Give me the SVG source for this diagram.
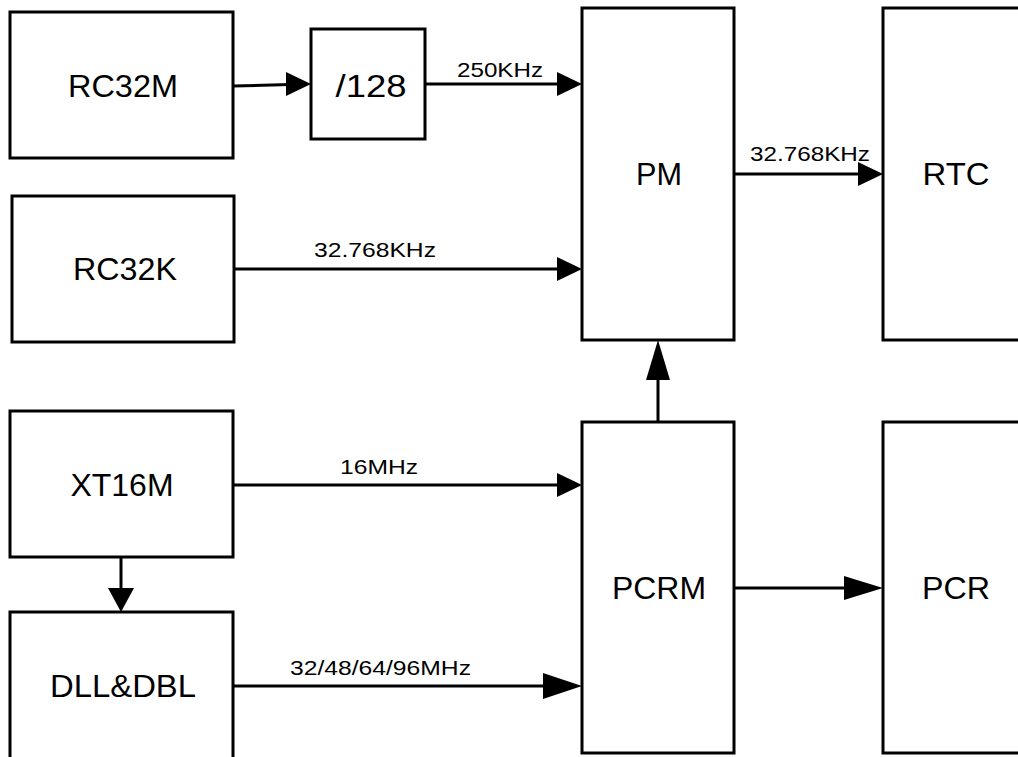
<svg xmlns="http://www.w3.org/2000/svg" width="1018" height="757" viewBox="0 0 1018 757">
<style>
  .box { fill: #fff; stroke: #000; stroke-width: 3; }
  .lbl { font-family: "Liberation Sans", Arial, sans-serif; font-size: 32px; fill: #000; text-anchor: middle; }
  .edge { stroke: #000; stroke-width: 3; fill: none; }
  .elbl { font-family: "Liberation Sans", Arial, sans-serif; font-size: 21px; fill: #000; }
  .head { fill: #000; stroke: none; }
</style>
<rect width="1018" height="757" fill="#fff"/>
<g id="connectors">
  <line class="edge" x1="233" y1="86" x2="290" y2="84.5"/>
  <polygon class="head" points="311,84 286,72 286,96"/>
  <line class="edge" x1="425" y1="84" x2="560" y2="84"/>
  <polygon class="head" points="582,84 557,72 557,96"/>
  <text class="elbl" x="457" y="77" textLength="86" lengthAdjust="spacingAndGlyphs">250KHz</text>
  <line class="edge" x1="234" y1="269" x2="560" y2="269"/>
  <polygon class="head" points="582,269 557,257 557,281"/>
  <text class="elbl" x="314" y="257" textLength="122" lengthAdjust="spacingAndGlyphs">32.768KHz</text>
  <line class="edge" x1="734" y1="174" x2="860" y2="174"/>
  <polygon class="head" points="883,174 858,162 858,186"/>
  <text class="elbl" x="750" y="161" textLength="120" lengthAdjust="spacingAndGlyphs">32.768KHz</text>
  <line class="edge" x1="658" y1="422" x2="658" y2="375"/>
  <polygon class="head" points="658,340 646,380 670,380"/>
  <line class="edge" x1="233" y1="485" x2="560" y2="485"/>
  <polygon class="head" points="582,485 557,473 557,497"/>
  <text class="elbl" x="340" y="474" textLength="78" lengthAdjust="spacingAndGlyphs">16MHz</text>
  <line class="edge" x1="121" y1="557" x2="121" y2="592"/>
  <polygon class="head" points="121,612 108,588 134,588"/>
  <line class="edge" x1="233" y1="686" x2="545" y2="686"/>
  <polygon class="head" points="582,686 543,673 543,699"/>
  <text class="elbl" x="290" y="675" textLength="181" lengthAdjust="spacingAndGlyphs">32/48/64/96MHz</text>
  <line class="edge" x1="734" y1="588" x2="846" y2="588"/>
  <polygon class="head" points="883,588 844,576 844,600"/>
</g>
<g id="RC32M">
  <rect class="box" x="10" y="12" width="223" height="146"/>
  <text class="lbl" x="123" y="97" textLength="110" lengthAdjust="spacingAndGlyphs">RC32M</text>
</g>
<g id="div128">
  <rect class="box" x="311" y="29" width="114" height="110"/>
  <text class="lbl" x="371" y="97" font-size="37" textLength="71" lengthAdjust="spacingAndGlyphs">/128</text>
</g>
<g id="RC32K">
  <rect class="box" x="12" y="196" width="222" height="146"/>
  <text class="lbl" x="125" y="280" textLength="104" lengthAdjust="spacingAndGlyphs">RC32K</text>
</g>
<g id="PM">
  <rect class="box" x="582" y="8" width="152" height="332"/>
  <text class="lbl" x="659" y="185" textLength="46" lengthAdjust="spacingAndGlyphs">PM</text>
</g>
<g id="RTC">
  <rect class="box" x="883" y="8" width="150" height="332"/>
  <text class="lbl" x="956" y="185" textLength="67" lengthAdjust="spacingAndGlyphs">RTC</text>
</g>
<g id="XT16M">
  <rect class="box" x="10" y="411" width="223" height="146"/>
  <text class="lbl" x="122" y="496" textLength="103" lengthAdjust="spacingAndGlyphs">XT16M</text>
</g>
<g id="DLLDBL">
  <rect class="box" x="10" y="612" width="223" height="160"/>
  <text class="lbl" x="123" y="697" textLength="146" lengthAdjust="spacingAndGlyphs">DLL&amp;DBL</text>
</g>
<g id="PCRM">
  <rect class="box" x="582" y="422" width="152" height="331"/>
  <text class="lbl" x="659" y="599" textLength="94" lengthAdjust="spacingAndGlyphs">PCRM</text>
</g>
<g id="PCR">
  <rect class="box" x="883" y="422" width="150" height="331"/>
  <text class="lbl" x="956" y="599" textLength="68" lengthAdjust="spacingAndGlyphs">PCR</text>
</g>
</svg>
